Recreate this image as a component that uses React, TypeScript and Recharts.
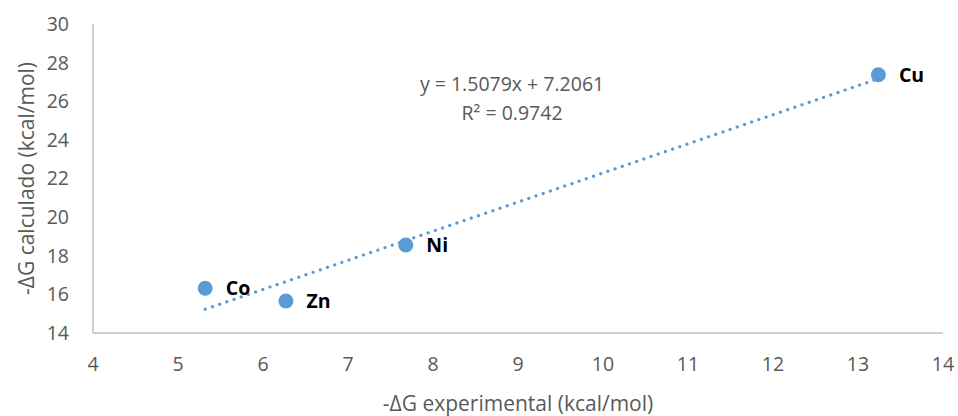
import {
  ScatterChart,
  Scatter,
  XAxis,
  YAxis,
  LabelList,
  ReferenceDot,
} from 'recharts';

const metals = ['Co', 'Zn', 'Ni', 'Cu'];
const experimental = [5.32, 6.27, 7.68, 13.24];
const calculated = [16.32, 15.66, 18.56, 27.37];

// trendline ends, as drawn
const trendX = [5.32, 13.22];
const trendY = [15.23, 27.14];

const xTicks = [4, 5, 6, 7, 8, 9, 10, 11, 12, 13, 14];
const yTicks = [14, 16, 18, 20, 22, 24, 26, 28, 30];

const equation = 'y = 1.5079x + 7.2061';
const rSquared = 'R² = 0.9742';

const BLUE = '#5B9BD5';
const AXIS = '#BFBFBF';
const TEXT = '#595959';
const FONT = '"Open Sans", sans-serif';

const points = metals.map((m, i) => ({ name: m, x: experimental[i], y: calculated[i] }));
const trend = trendX.map((x, i) => ({ x, y: trendY[i] }));

export default function App() {
  return (
    <div style={{ position: 'absolute', left: 0, top: 0, background: '#fff', fontFamily: FONT }}>
      <ScatterChart width={958} height={416} margin={{ top: 24, right: 15, bottom: 20, left: 0 }}>
        <XAxis
          type="number"
          dataKey="x"
          domain={[4, 14]}
          ticks={xTicks}
          axisLine={{ stroke: AXIS, strokeWidth: 1.5 }}
          tickLine={false}
          tick={{ fill: TEXT, fontSize: 19.5, fontFamily: FONT }}
          tickMargin={18}
          height={63}
          label={{
            value: '-ΔG experimental (kcal/mol)',
            position: 'insideBottom',
            offset: -15,
            style: { fill: TEXT, fontSize: 21, fontFamily: FONT },
          }}
        />
        <YAxis
          type="number"
          dataKey="y"
          domain={[14, 30]}
          ticks={yTicks}
          axisLine={{ stroke: AXIS, strokeWidth: 1.5 }}
          tickLine={false}
          tick={{ fill: TEXT, fontSize: 19.5, fontFamily: FONT }}
          tickMargin={18}
          width={93}
          label={{
            value: '-ΔG calculado (kcal/mol)',
            angle: -90,
            position: 'insideLeft',
            offset: 27,
            style: { fill: TEXT, fontSize: 21, fontFamily: FONT, textAnchor: 'middle' },
          }}
        />
        <Scatter
          data={trend}
          line={{ stroke: BLUE, strokeWidth: 3.2, strokeDasharray: '0.1 7.5', strokeLinecap: 'round' }}
          shape={() => <g />}
          isAnimationActive={false}
        />
        <Scatter data={points} fill={BLUE} isAnimationActive={false} shape={(p: any) => <circle cx={p.cx} cy={p.cy} r={7.5} fill={BLUE} />}>
          <LabelList
            dataKey="name"
            position="right"
            offset={16}
            style={{ fill: '#000', fontSize: 19.5, fontWeight: 700, fontFamily: FONT }}
          />
        </Scatter>
        <ReferenceDot
          x={8.93}
          y={26.9}
          r={0}
          label={{ value: equation, position: 'center', style: { fill: TEXT, fontSize: 19.5, fontFamily: FONT } }}
        />
        <ReferenceDot
          x={8.93}
          y={25.4}
          r={0}
          label={{ value: rSquared, position: 'center', style: { fill: TEXT, fontSize: 19.5, fontFamily: FONT } }}
        />
      </ScatterChart>
    </div>
  );
}
